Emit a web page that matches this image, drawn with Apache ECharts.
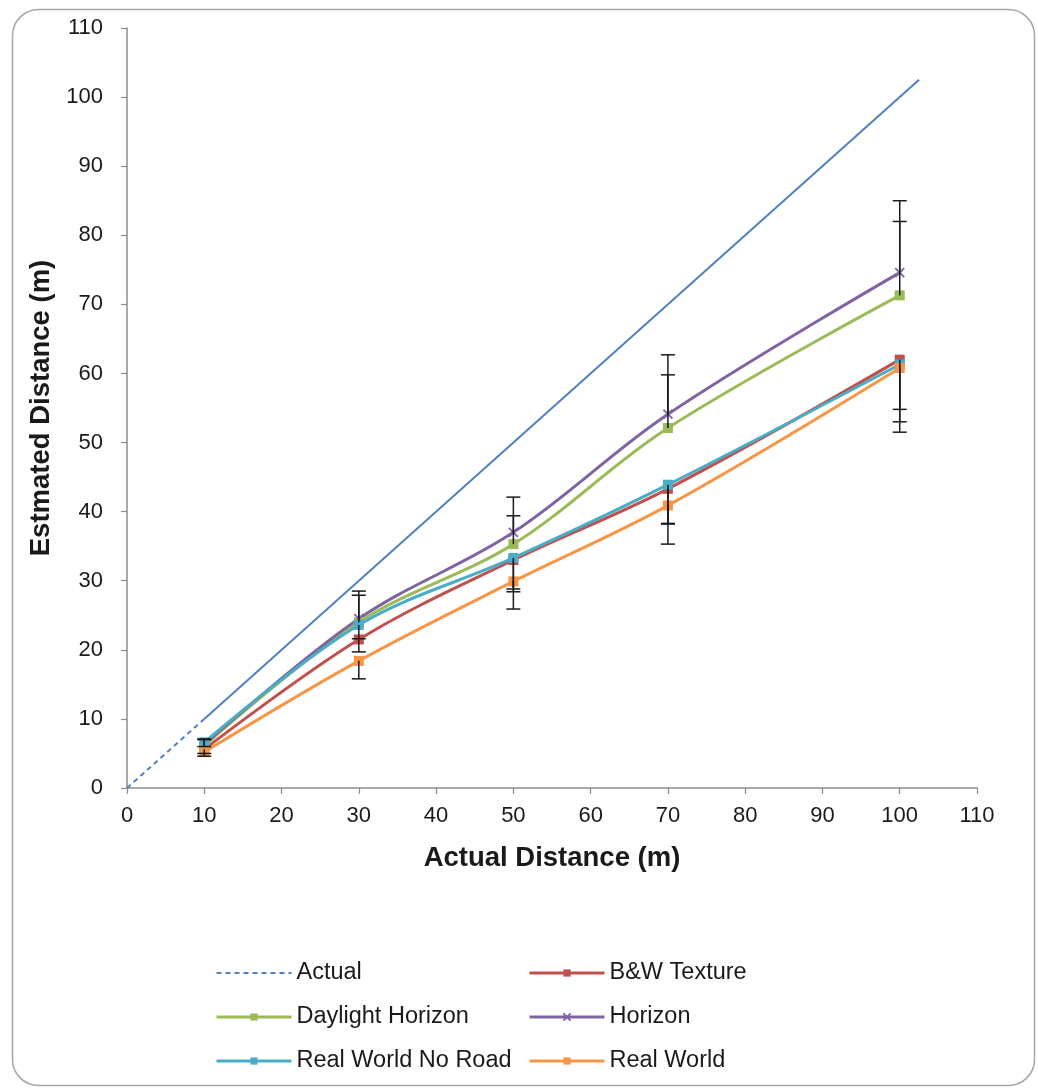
<!DOCTYPE html>
<html>
<head>
<meta charset="utf-8">
<script src="https://cdn.jsdelivr.net/npm/echarts@6/dist/echarts.min.js"></script>
<style>
html,body{margin:0;padding:0;background:#fff;}
#chart{width:1038px;height:1088px;}
</style>
</head>
<body>
<div id="chart"></div>
<script>
// ---- data ----
const distances = [10, 30, 50, 70, 100];
const actualDashedX = [0, 10];
const actualSolidX = [10, 102.5];
const bwTexture = [5.6, 21.5, 33.0, 43.3, 62.0];
const daylightHorizon = [6.1, 24.0, 35.3, 52.1, 71.3];
const horizon = [6.3, 24.5, 37.0, 54.1, 74.6];
const realWorldNoRoad = [6.6, 23.6, 33.3, 43.9, 61.3];
const realWorld = [5.2, 18.4, 29.9, 40.9, 60.8];
// error bar magnitudes (plus for upper series, minus for lower series)
const horizonErrPlus = [0.8, 4.0, 5.1, 8.6, 10.4];
const daylightErrPlus = [0.9, 3.9, 4.1, 7.7, 10.7];
const bwErrMinus = [0.6, 1.8, 4.6, 5.1, 7.2];
const rwnrErrMinus = [0.6, 2.0, 4.5, 5.6, 8.3];
const rwErrMinus = [0.6, 2.6, 4.0, 5.6, 9.3];
const axisTicks = [0, 10, 20, 30, 40, 50, 60, 70, 80, 90, 100, 110];

const C = {
  actual: '#4F81BD', bw: '#C0504D', day: '#9BBB59',
  hor: '#8064A2', rwnr: '#4BACC6', rw: '#F79646'
};

function pairs(xs, ys) { return xs.map((x, i) => [x, ys[i]]); }

const errData = [];
distances.forEach((x, i) => {
  errData.push([x, horizon[i], horizon[i] + horizonErrPlus[i]]);
  errData.push([x, daylightHorizon[i], daylightHorizon[i] + daylightErrPlus[i]]);
  errData.push([x, bwTexture[i], bwTexture[i] - bwErrMinus[i]]);
  errData.push([x, realWorldNoRoad[i], realWorldNoRoad[i] - rwnrErrMinus[i]]);
  errData.push([x, realWorld[i], realWorld[i] - rwErrMinus[i]]);
});

const chart = echarts.init(document.getElementById('chart'), null, {renderer: 'canvas'});

const fontFam = 'Liberation Sans, Arial, sans-serif';
const lineW = 3;
const sq = 10;
const xPath = 'path://M0,0L10,10M10,0L0,10';

function lineSeries(name, data, color, symbol, size) {
  return {
    name: name, type: 'line', data: pairs(distances, data),
    smooth: 0.35, symbol: symbol, symbolSize: size, showSymbol: true,
    lineStyle: {color: color, width: lineW},
    itemStyle: {color: color, borderColor: color, borderWidth: symbol === 'rect' ? 0 : 1.8},
    z: 3
  };
}

const legendCommon = {
  orient: 'vertical', top: 961, itemWidth: 75, itemHeight: 9, itemGap: 20, padding: 0,
  lineStyle: {width: 3},
  textStyle: {fontFamily: fontFam, fontSize: 23.5, color: '#1a1a1a', lineHeight: 23}
};

const option = {
  backgroundColor: '#fff',
  animation: false,
  graphic: [{
    type: 'rect', left: 10, top: 7,
    shape: {width: 1022, height: 1076, r: 26},
    style: {fill: 'none', stroke: '#a6a6a6', lineWidth: 1.5}, z: -10
  }],
  grid: {left: 127, top: 28, width: 850, height: 760, containLabel: false},
  xAxis: {
    type: 'value', min: axisTicks[0], max: axisTicks[axisTicks.length - 1], interval: 10,
    name: 'Actual Distance (m)', nameLocation: 'middle', nameGap: 56,
    nameTextStyle: {fontFamily: fontFam, fontSize: 27.5, fontWeight: 'bold', color: '#1a1a1a'},
    axisLine: {show: true, onZero: false, lineStyle: {color: '#8c8c8c', width: 1.5}},
    axisTick: {show: true, inside: false, length: 6, lineStyle: {color: '#8c8c8c', width: 1.2}},
    axisLabel: {fontFamily: fontFam, fontSize: 22, color: '#1a1a1a', margin: 17},
    splitLine: {show: false}
  },
  yAxis: {
    type: 'value', min: axisTicks[0], max: axisTicks[axisTicks.length - 1], interval: 10,
    name: 'Estmated Distance (m)', nameLocation: 'middle', nameGap: 68,
    nameTextStyle: {fontFamily: fontFam, fontSize: 27.5, fontWeight: 'bold', color: '#1a1a1a'},
    axisLine: {show: true, onZero: false, lineStyle: {color: '#8c8c8c', width: 1.5}},
    axisTick: {show: true, inside: false, length: 6, lineStyle: {color: '#8c8c8c', width: 1.2}},
    axisLabel: {fontFamily: fontFam, fontSize: 22, color: '#1a1a1a', margin: 24},
    splitLine: {show: false}
  },
  legend: [
    Object.assign({}, legendCommon, {
      left: 215,
      data: [{name: 'Actual', itemStyle: {opacity: 0}, lineStyle: {width: 2}}, 'Daylight Horizon', 'Real World No Road']
    }),
    Object.assign({}, legendCommon, {
      left: 528,
      data: ['B&W Texture', 'Horizon', 'Real World']
    })
  ],
  series: [
    {
      name: 'Actual', type: 'line', data: actualDashedX.map(v => [v, v]),
      symbol: 'none', lineStyle: {color: C.actual, width: 2, type: [5, 4]},
      itemStyle: {color: C.actual}, z: 2
    },
    {
      name: 'Actual trend', type: 'line', data: actualSolidX.map(v => [v, v]),
      symbol: 'none', lineStyle: {color: C.actual, width: 2},
      itemStyle: {color: C.actual}, z: 2
    },
    lineSeries('B&W Texture', bwTexture, C.bw, 'rect', sq),
    lineSeries('Daylight Horizon', daylightHorizon, C.day, 'rect', sq),
    lineSeries('Horizon', horizon, C.hor, xPath, 9),
    lineSeries('Real World No Road', realWorldNoRoad, C.rwnr, 'rect', sq),
    lineSeries('Real World', realWorld, C.rw, 'rect', sq),
    {
      name: 'errors', type: 'custom', data: errData, z: 4,
      encode: {x: 0, y: [1, 2]},
      renderItem: function (params, api) {
        const p0 = api.coord([api.value(0), api.value(1)]);
        const p1 = api.coord([api.value(0), api.value(2)]);
        const hw = 7;
        const st = {stroke: '#1a1a1a', lineWidth: 1.5};
        return {
          type: 'group',
          children: [
            {type: 'line', shape: {x1: p0[0], y1: p0[1], x2: p1[0], y2: p1[1]}, style: st},
            {type: 'line', shape: {x1: p1[0] - hw, y1: p1[1], x2: p1[0] + hw, y2: p1[1]}, style: st}
          ]
        };
      }
    }
  ]
};
chart.setOption(option);
</script>
</body>
</html>
